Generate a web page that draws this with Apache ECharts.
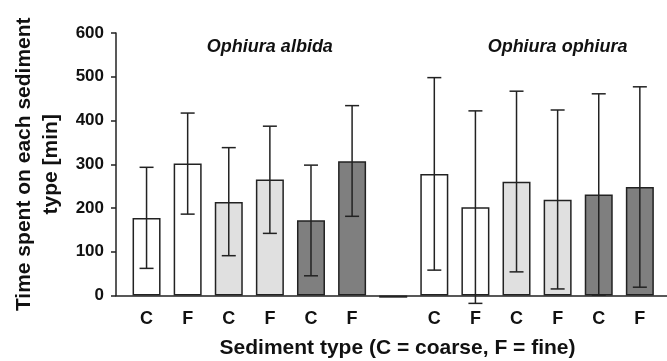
<!DOCTYPE html>
<html><head><meta charset="utf-8">
<script src="https://cdn.jsdelivr.net/npm/echarts@6/dist/echarts.min.js"></script>
<style>html,body{margin:0;padding:0;background:#fff}#c{width:667px;height:361px}</style>
</head><body><div id="c"></div>
<script>
const categories = ['C','F','C','F','C','F','','C','F','C','F','C','F'];
const means = [177, 302, 214, 265, 172, 307, -5, 278, 202, 260, 219, 231, 248];
const errUpper = [293, 417, 338, 387, 298, 434, null, 498, 422, 467, 424, 461, 477];
const errLower = [62, 186, 91, 142, 45, 181, null, 58, -18, 54, 15, 1, 19];
const barColors = ['#ffffff','#ffffff','#e0e0e0','#e0e0e0','#7f7f7f','#7f7f7f','#222222','#ffffff','#ffffff','#e0e0e0','#e0e0e0','#7f7f7f','#7f7f7f'];
const species = ['Ophiura albida', 'Ophiura ophiura'];
const yTicks = [0, 100, 200, 300, 400, 500, 600];

const FONT = '"Liberation Sans", Arial, sans-serif';
const chart = echarts.init(document.getElementById('c'), null, {renderer:'canvas'});
const gTop = 33, gBottom = 65.5;
chart.setOption({
  animation: false,
  grid: [
    {left: 126, width: 534.4, top: gTop, bottom: gBottom, outerBoundsMode:'none', containLabel:false},
    {left: 116, right: 0, top: gTop, bottom: gBottom, outerBoundsMode:'none', containLabel:false}
  ],
  xAxis: [
    {type:'category', gridIndex:0, data: categories,
     axisLine:{show:false}, axisTick:{show:false},
     axisLabel:{color:'#111', fontFamily:FONT, fontWeight:'bold', fontSize:18, margin:15, interval:0}},
    {type:'value', gridIndex:1, min:0, max:1, axisLine:{show:true, onZero:false, lineStyle:{color:'#222', width:1.5}},
     axisTick:{show:false}, axisLabel:{show:false}, splitLine:{show:false},
     name:'Sediment type (C = coarse, F = fine)', nameLocation:'middle', nameGap:42,
     nameTextStyle:{color:'#111', fontFamily:FONT, fontWeight:'bold', fontSize:21, padding:[0,0,0,12]}}
  ],
  yAxis: [
    {type:'value', gridIndex:0, min:0, max:600, show:false},
    {type:'value', gridIndex:1, min:0, max:600, interval:100,
     axisLine:{show:true, lineStyle:{color:'#222', width:1.5}},
     axisTick:{show:true, inside:false, length:5, lineStyle:{color:'#222', width:1.5}},
     axisLabel:{color:'#111', fontFamily:FONT, fontWeight:'bold', fontSize:17, margin:12,
       formatter: v => yTicks.includes(v) ? String(v) : ''},
     splitLine:{show:false},
     name:'Time spent on each sediment\ntype [min]', nameLocation:'middle', nameGap:51, nameRotate:90,
     nameTextStyle:{color:'#111', fontFamily:FONT, fontWeight:'bold', fontSize:21, lineHeight:27}}
  ],
  series: [
    {type:'bar', xAxisIndex:0, yAxisIndex:0, barWidth:28, z:3, clip:false,
     data: means.map((v,i)=>({value:v, itemStyle:{color:barColors[i]}})),
     itemStyle:{borderColor:'#222', borderWidth:1.5}},
    {type:'custom', xAxisIndex:0, yAxisIndex:0, clip:false,
     data: means.map((v,i)=>[i, errLower[i], errUpper[i]]).filter(d=>d[1]!==null),
     renderItem: function(params, api){
       const x = api.coord([api.value(0), 0])[0];
       const lo = api.coord([api.value(0), api.value(1)])[1];
       const hi = api.coord([api.value(0), api.value(2)])[1];
       const hw = 7;
       const st = {stroke:'#222', lineWidth:1.5};
       return {type:'group', children:[
         {type:'line', shape:{x1:x, y1:lo, x2:x, y2:hi}, style:st},
         {type:'line', shape:{x1:x-hw, y1:hi, x2:x+hw, y2:hi}, style:st},
         {type:'line', shape:{x1:x-hw, y1:lo, x2:x+hw, y2:lo}, style:st}
       ]};
     }, z:5}
  ]
});
const p1 = chart.convertToPixel({xAxisIndex:0, yAxisIndex:0}, [2.5, 567]);
const p2 = chart.convertToPixel({xAxisIndex:0, yAxisIndex:0}, [9.5, 567]);
chart.setOption({graphic:[
  {type:'text', x:p1[0], y:p1[1], style:{text:species[0], fill:'#111', font:'italic bold 18px '+FONT, textAlign:'center', textVerticalAlign:'middle'}},
  {type:'text', x:p2[0], y:p2[1], style:{text:species[1], fill:'#111', font:'italic bold 18px '+FONT, textAlign:'center', textVerticalAlign:'middle'}}
]});
</script></body></html>
